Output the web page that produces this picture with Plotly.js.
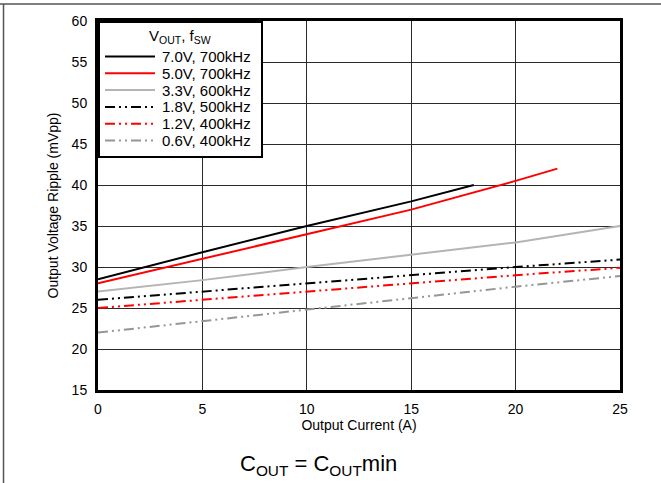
<!DOCTYPE html>
<html>
<head>
<meta charset="utf-8">
<script src="https://cdn.plot.ly/plotly-3.0.1.min.js"></script>
<style>html,body{margin:0;padding:0;background:#fff;}#chart{width:661px;height:483px;}</style>
</head>
<body>
<div id="chart"></div>
<script>
const seriesNames = ["7.0V, 700kHz", "5.0V, 700kHz", "3.3V, 600kHz", "1.8V, 500kHz", "1.2V, 400kHz", "0.6V, 400kHz"];
const seriesColors = ["#000000", "#ff0000", "#b4b4b4", "#000000", "#ff0000", "#969696"];
const x_7v0 = [0, 5, 10, 15, 18];
const y_7v0 = [28.5, 31.8, 35.0, 38.0, 40.0];
const x_5v0 = [0, 5, 10, 15, 20, 22];
const y_5v0 = [28.0, 31.0, 34.0, 37.0, 40.5, 42.0];
const x_3v3 = [0, 5, 10, 15, 20, 25];
const y_3v3 = [27.0, 28.4, 30.0, 31.5, 33.0, 35.0];
const x_1v8 = [0, 5, 10, 15, 20, 25];
const y_1v8 = [26.0, 27.0, 28.0, 29.0, 30.0, 30.9];
const x_1v2 = [0, 5, 10, 15, 20, 25];
const y_1v2 = [25.0, 26.0, 27.0, 28.0, 29.0, 29.9];
const x_0v6 = [0, 5, 10, 15, 20, 25];
const y_0v6 = [22.0, 23.4, 24.8, 26.2, 27.6, 28.9];
const xTicks = [0, 5, 10, 15, 20, 25];
const yTicks = [15, 20, 25, 30, 35, 40, 45, 50, 55, 60];

const dd = "10px,4px,2px,4px,2px,4px";
const seriesDash = ["solid", "solid", "solid", dd, dd, dd];
const xs = [x_7v0, x_5v0, x_3v3, x_1v8, x_1v2, x_0v6];
const ys = [y_7v0, y_5v0, y_3v3, y_1v8, y_1v2, y_0v6];
const traces = seriesNames.map((n, i) => ({
  x: xs[i], y: ys[i], name: n, type: "scatter", mode: "lines",
  line: {color: seriesColors[i], width: 2, dash: seriesDash[i]}
}));

// plot area in pixels: x 98..620, y 21..390
const L = 98, R = 620, T = 21, B = 390;
const px = v => (v - L) / (R - L);
const py = v => (B - v) / (B - T);

const F = "Liberation Sans, Arial, Helvetica, sans-serif";
const shapes = [
  {type: "line", xref: "paper", yref: "paper", x0: -0.2, x1: 1.1, y0: 1.046, y1: 1.046, line: {color: "#555", width: 1.5}},
  {type: "line", xref: "paper", yref: "paper", x0: -0.181, x1: -0.181, y0: 1.046, y1: -0.3, line: {color: "#555", width: 1.5}},
  {type: "rect", xref: "paper", yref: "paper", x0: px(99), x1: px(262), y0: py(157), y1: py(22),
   fillcolor: "#fff", line: {color: "#000", width: 2}}
];
const annotations = [
  {xref: "paper", yref: "paper", x: px(180), y: py(47), xanchor: "center", yanchor: "bottom", showarrow: false,
   text: "V<sub>OUT</sub>, f<sub>SW</sub>", font: {family: F, size: 15, color: "#000"}, borderpad: 0},
  {xref: "paper", yref: "paper", x: 0.4215, y: -0.203, xanchor: "center", yanchor: "middle", showarrow: false,
   text: "C<sub>OUT</sub> = C<sub>OUT</sub>min", font: {family: F, size: 22, color: "#000"}}
];
seriesNames.forEach((n, i) => {
  const yy = 56.5 + 16.8 * i;
  shapes.push({type: "line", xref: "paper", yref: "paper", x0: px(105), x1: px(155), y0: py(yy), y1: py(yy),
    line: {color: seriesColors[i], width: 2, dash: seriesDash[i]}});
  annotations.push({xref: "paper", yref: "paper", x: px(161), y: py(yy), xanchor: "left", yanchor: "middle",
    showarrow: false, text: n, font: {family: F, size: 15, color: "#000"}, borderpad: 0});
});

const layout = {
  width: 661, height: 483,
  margin: {l: 98, r: 41, t: 21, b: 93},
  paper_bgcolor: "#fff", plot_bgcolor: "#fff",
  font: {family: F, size: 14, color: "#000"},
  showlegend: false,
  xaxis: {
    range: [0, 25], tickvals: xTicks, ticktext: xTicks.map(String),
    showgrid: true, gridcolor: "#2a2a2a", gridwidth: 1,
    showline: true, mirror: true, linecolor: "#000", linewidth: 3,
    zeroline: false, ticks: "", tickfont: {size: 14}, ticklabelstandoff: 4,
    title: {text: "Output Current (A)", font: {size: 14}, standoff: 0}
  },
  yaxis: {
    range: [15, 60], tickvals: yTicks, ticktext: yTicks.map(String),
    showgrid: true, gridcolor: "#2a2a2a", gridwidth: 1,
    showline: true, mirror: true, linecolor: "#000", linewidth: 3,
    zeroline: false, ticks: "", tickfont: {size: 14}, ticklabelstandoff: 5,
    title: {text: "Output Voltage Ripple (mVpp)", font: {size: 14}, standoff: 10}
  },
  annotations: annotations,
  shapes: shapes
};
Plotly.newPlot("chart", traces, layout, {staticPlot: true, displayModeBar: false});
</script>
</body>
</html>
